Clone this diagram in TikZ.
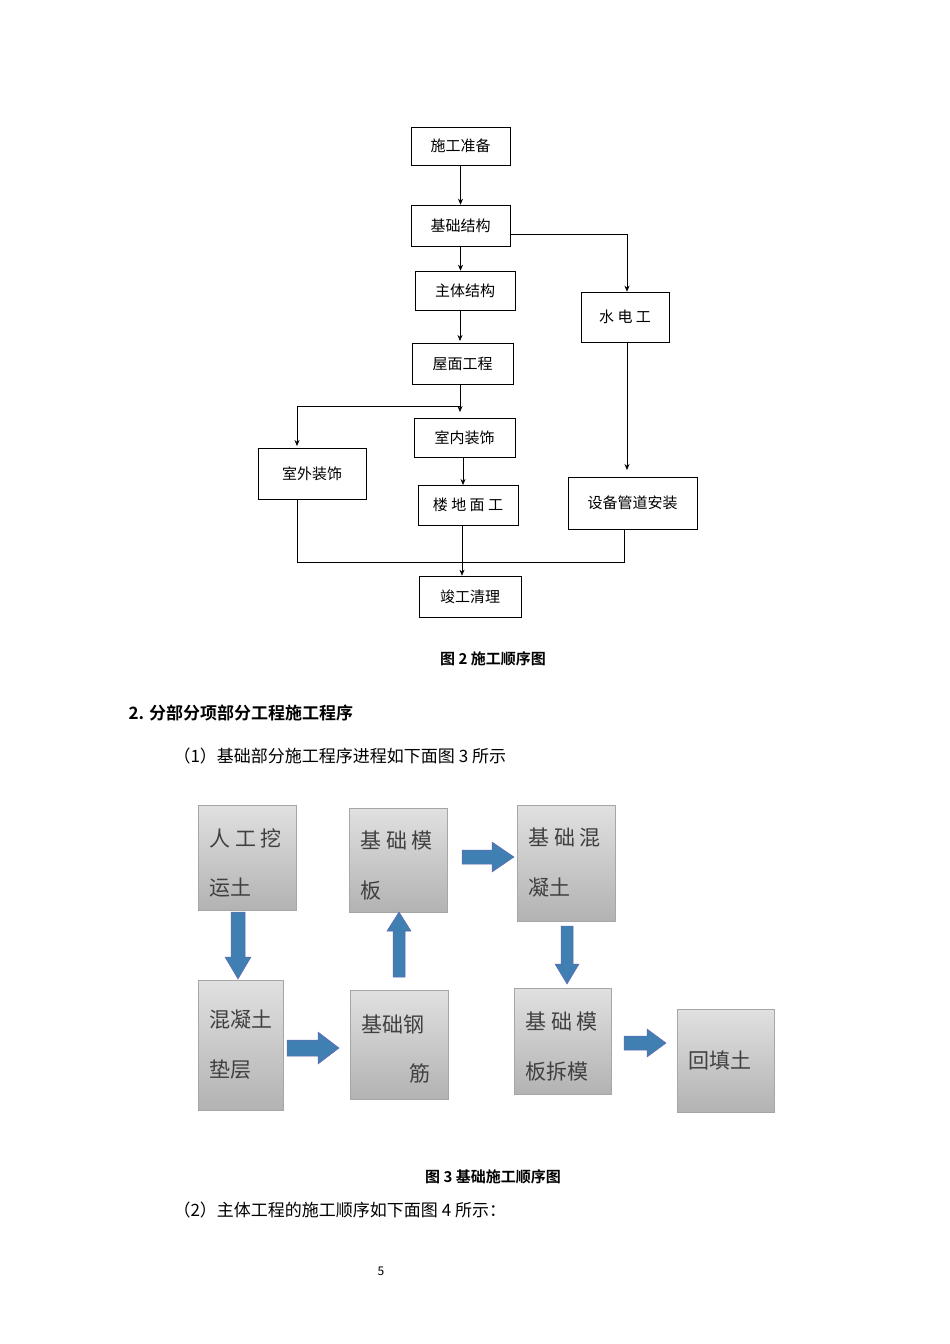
\documentclass[tikz,border=0pt]{standalone}
\usepackage{fontspec}
\setmainfont{Noto Sans CJK SC}
\newfontfamily\cjkb{Noto Sans CJK SC}[BoldFont={* Bold}]
\usetikzlibrary{arrows.meta,shapes.arrows}
\begin{document}
\begin{tikzpicture}[x=1pt,y=-1pt,
 fb/.style={draw,line width=0.6pt,inner sep=0pt,font=\fontsize{15}{18}\selectfont},
 ln/.style={line width=0.6pt},
 ar/.style={ln,-{Stealth[length=6pt,width=5pt]}},
 gb/.style={draw=black!35,top color=black!12,bottom color=black!30,line width=0.6pt},
 bt/.style={anchor=west,font=\fontsize{21}{24}\selectfont,text=black!75},
 ba/.style={fill=blue!45!cyan!60!black!75,draw=blue!50!black!60,line width=0.5pt}]
\useasboundingbox[fill=white] (0,0) rectangle (950,1344);
% top flowchart
\node[fb,minimum width=99,minimum height=38] (a) at (460.5,146) {施工准备};
\node[fb,minimum width=99,minimum height=41] (b) at (460.5,225.5) {基础结构};
\node[fb,minimum width=100,minimum height=39] (c) at (465,290.5) {主体结构};
\node[fb,minimum width=101,minimum height=41] (d) at (462.5,363.5) {屋面工程};
\node[fb,minimum width=101,minimum height=39] (e) at (464.5,437.5) {室内装饰};
\node[fb,minimum width=100,minimum height=40] (f) at (468,505) {楼 地 面 工};
\node[fb,minimum width=102,minimum height=41] (g) at (470,596.5) {竣工清理};
\node[fb,minimum width=108,minimum height=51] (h) at (312,473.5) {室外装饰};
\node[fb,minimum width=88,minimum height=50] (i) at (625,317) {水 电 工};
\node[fb,minimum width=129,minimum height=52] (j) at (632.5,503) {设备管道安装};
\coordinate (br) at (627,234);
\coordinate (dl) at (297,406);
\coordinate (dm) at (460,406);
\coordinate (hb) at (297,562);
\coordinate (jb) at (624,562);
\coordinate (gm) at (462,562);
\draw[ar] (a.south) -- (b.north);
\draw[ar] (b.south) -- (b.south|-c.north);
\draw[ar] (c.south-|460,0) -- (460,341);
\draw[ln] (b.east|-br) -- (br);
\draw[ar] (br) -- (i.north-|br);
\draw[ar] (d.south-|dm) -- (460,412);
\draw[ln] (dm) -- (dl);
\draw[ar] (dl) -- (297,446);
\draw[ar] (e.south-|463,0) -- (463,485);
\draw[ar] (i.south-|627,0) -- (627,470);
\draw[ln] (h.south-|hb) -- (hb) -- (jb) -- (j.south-|jb);
\draw[ar] (f.south-|462,0) -- (g.north-|462,0);
\node[font=\cjkb\bfseries\fontsize{15}{18}\selectfont] (cap2) at (493,659) {图 2 施工顺序图};
\node[anchor=west,font=\cjkb\bfseries\fontsize{17}{20}\selectfont] (h2) at (125,713) {2. 分部分项部分工程施工程序};
\node[anchor=west,font=\fontsize{17}{20}\selectfont] (p1) at (170,756) {（1）基础部分施工程序进程如下面图 3 所示};
% lower
\draw[gb] (198,805) rectangle (296,910);
\node[bt] (t1a) at (206,838) {人 工 挖};
\node[bt] (t1b) at (206,888) {运土};
\draw[gb] (349,808) rectangle (447,912);
\node[bt] (t2a) at (357,841) {基 础 模};
\node[bt] (t2b) at (357,891) {板};
\draw[gb] (517,805) rectangle (615,921);
\node[bt] (t3a) at (525,838) {基 础 混};
\node[bt] (t3b) at (525,888) {凝土};
\draw[gb] (198,980) rectangle (283,1110);
\node[bt] (t4a) at (206,1020) {混凝土};
\node[bt] (t4b) at (206,1070) {垫层};
\draw[gb] (350,990) rectangle (448,1099);
\node[bt] (t5a) at (358,1024) {基础钢};
\node[bt] (t5b) at (406,1074) {筋};
\draw[gb] (514,988) rectangle (611,1094);
\node[bt] (t6a) at (522,1022) {基 础 模};
\node[bt] (t6b) at (522,1072) {板拆模};
\draw[gb] (677,1009) rectangle (774,1112);
\node[bt] (t7) at (685,1061) {回填土};
% block arrows
\draw[ba] (231,912) -- (245,912) -- (245,957) -- (251,957) -- (238,979) -- (225,957) -- (231,957) -- cycle;
\draw[ba] (287,1040) -- (318,1040) -- (318,1032) -- (339,1048) -- (318,1064) -- (318,1056) -- (287,1056) -- cycle;
\draw[ba] (393,977) -- (405,977) -- (405,931) -- (411,931) -- (399,912) -- (387,931) -- (393,931) -- cycle;
\draw[ba] (462,850) -- (492,850) -- (492,842) -- (514,857) -- (492,872) -- (492,864) -- (462,864) -- cycle;
\draw[ba] (561,926) -- (573,926) -- (573,964) -- (579,964) -- (567,984) -- (555,964) -- (561,964) -- cycle;
\draw[ba] (624,1036) -- (647,1036) -- (647,1029) -- (666,1043) -- (647,1057) -- (647,1050) -- (624,1050) -- cycle;
\node[font=\cjkb\bfseries\fontsize{15}{18}\selectfont] (cap3) at (493,1177) {图 3 基础施工顺序图};
\node[anchor=west,font=\fontsize{17}{20}\selectfont] (p2) at (170,1210) {（2）主体工程的施工顺序如下面图 4 所示：};
\node[font=\fontsize{12}{14}\selectfont] (pg) at (381,1271) {5};
\end{tikzpicture}
\end{document}
